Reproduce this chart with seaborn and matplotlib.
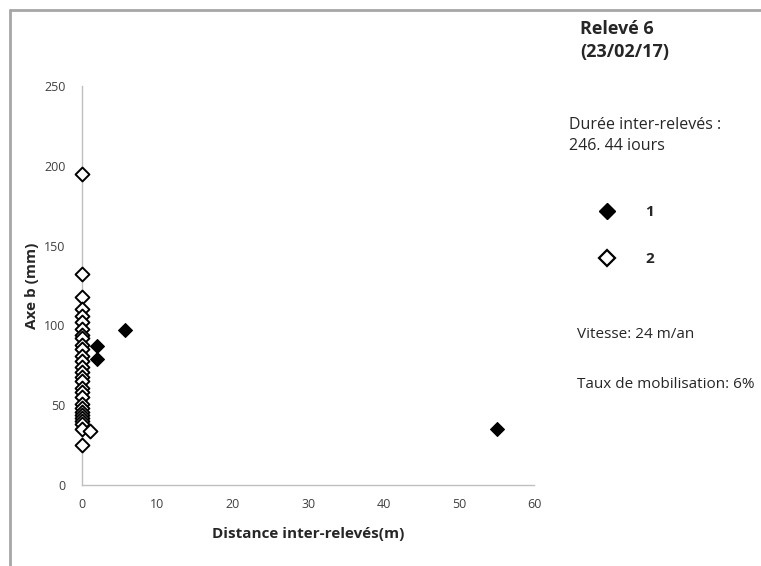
import matplotlib
matplotlib.use("Agg")
import matplotlib.pyplot as plt
from matplotlib.patches import Rectangle
from matplotlib.lines import Line2D
import seaborn as sns
import pandas as pd

# Series 1: particles that moved (filled diamonds)
dist_1 = [5.7, 2.0, 2.0, 55.1]
axe_b_1 = [97, 87, 79, 35]

# Series 2: particles found near their previous position (open diamonds)
dist_2 = [0, 0, 0, 0, 0, 0, 0, 0, 0, 0, 0, 0, 0, 0, 0, 0, 0, 0, 0, 0,
          0, 0, 0, 0, 0, 0, 0, 0, 0, 1.1]
axe_b_2 = [195, 132, 118, 110, 106, 102, 98, 94, 92, 88, 85, 81, 78, 74, 71,
           68, 65, 61, 58, 55, 51, 48, 46, 44, 42, 40, 38, 35, 25, 34]

x_ticks = [0, 10, 20, 30, 40, 50, 60]
y_ticks = [0, 50, 100, 150, 200, 250]

df1 = pd.DataFrame({"dist": dist_1, "axe_b": axe_b_1})
df2 = pd.DataFrame({"dist": dist_2, "axe_b": axe_b_2})

sns.set_style("white")
plt.rcParams["font.family"] = ["Open Sans", "DejaVu Sans"]

fig = plt.figure(figsize=(7.61, 5.66), dpi=100)
ax = fig.add_axes([0.108, 0.143, 0.594, 0.705])

sns.scatterplot(data=df2, x="dist", y="axe_b", marker="D", s=50,
                facecolor="white", edgecolor="black", linewidth=1.4,
                ax=ax, zorder=3, clip_on=False)
sns.scatterplot(data=df1, x="dist", y="axe_b", marker="D", s=50,
                color="black", edgecolor="black", linewidth=0.8,
                ax=ax, zorder=4, clip_on=False)

ax.set_xlim(0, 60)
ax.set_ylim(0, 250)
ax.set_xticks(x_ticks)
ax.set_yticks(y_ticks)

axis_grey = "#bfbfbf"
for side in ["top", "right"]:
    ax.spines[side].set_visible(False)
for side in ["left", "bottom"]:
    ax.spines[side].set_color(axis_grey)
    ax.spines[side].set_linewidth(1.0)
ax.tick_params(axis="both", direction="out", length=5, width=1.0,
               color=axis_grey, labelsize=9, labelcolor="#404040", pad=4)
ax.tick_params(axis="y", direction="in", pad=12)

ax.set_xlabel("Distance inter-relevés(m)", fontsize=11, fontweight="bold",
              labelpad=12)
ax.set_ylabel("Axe b (mm)", fontsize=11, fontweight="bold", labelpad=4)

# Legend in the right-hand panel
handles = [
    Line2D([], [], marker="D", linestyle="none", markersize=8,
           markerfacecolor="black", markeredgecolor="black"),
    Line2D([], [], marker="D", linestyle="none", markersize=8,
           markerfacecolor="white", markeredgecolor="black",
           markeredgewidth=1.6),
]
ax.legend(handles, ["1", "2"], loc="upper left",
          bbox_to_anchor=(0.770, 0.662), bbox_transform=fig.transFigure,
          frameon=False, prop={"weight": "bold", "size": 11},
          handlelength=1.0, handletextpad=2.0, labelspacing=2.15)

# Annotation texts
fig.text(580 / 761, 1 - 20 / 566, "Relevé 6\n(23/02/17)", fontsize=13,
         fontweight="bold", va="top", ha="left", linespacing=1.35)
fig.text(569 / 761, 1 - 117 / 566, "Durée inter-relevés :\n246, 44 jours",
         fontsize=11.5, va="top", ha="left", linespacing=1.4)
# the text box cuts the second line short
fig.add_artist(Rectangle((560 / 761, 1 - 175 / 566), 200 / 761,
                         25 / 566, transform=fig.transFigure,
                         facecolor="white", edgecolor="none", zorder=10))
fig.text(577 / 761, 1 - 334 / 566, "Vitesse: 24 m/an", fontsize=11,
         va="center", ha="left")
fig.text(577 / 761, 1 - 384 / 566, "Taux de mobilisation: 6%", fontsize=11,
         va="center", ha="left")

# Outer frame on left and top edges
frame_col = "#a6a6a6"
fig.add_artist(Line2D([10 / 761, 10 / 761], [0, 1 - 10 / 566],
                      transform=fig.transFigure, color=frame_col, lw=2))
fig.add_artist(Line2D([10 / 761, 1], [1 - 10 / 566, 1 - 10 / 566],
                      transform=fig.transFigure, color=frame_col, lw=2))

fig.savefig("out.png", dpi=100)
